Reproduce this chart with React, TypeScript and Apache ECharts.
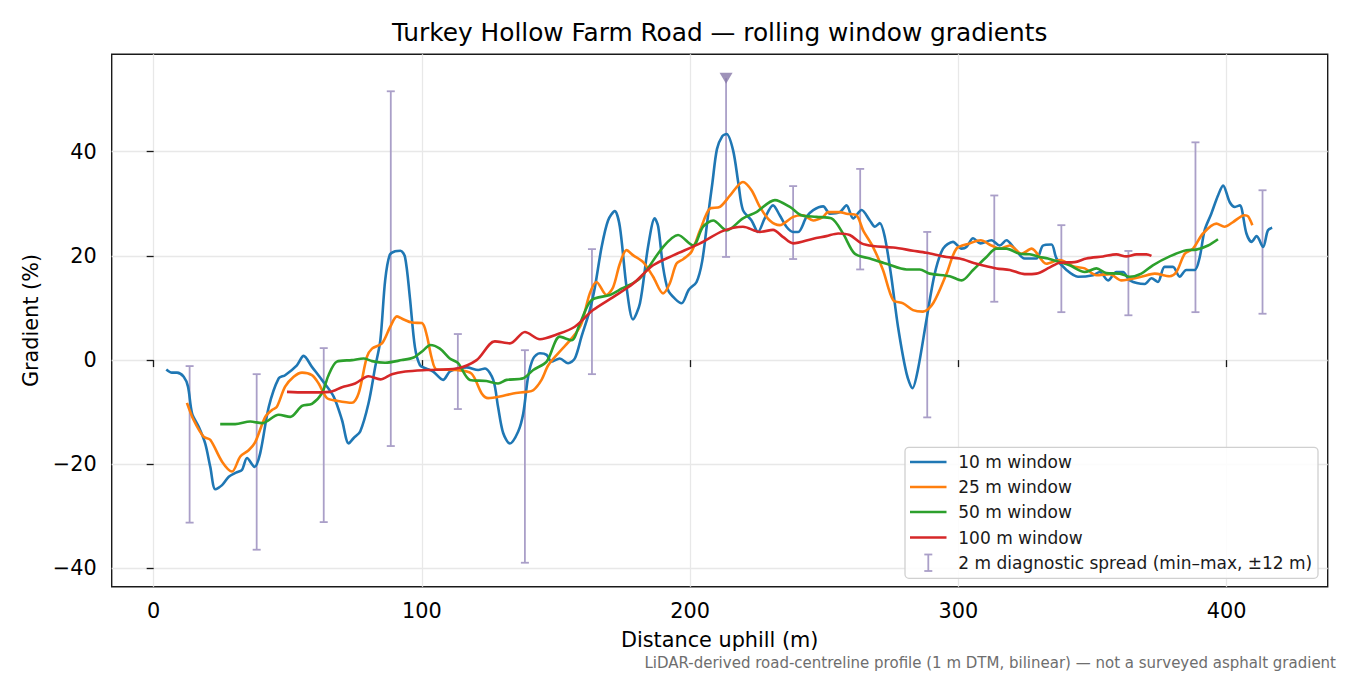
import { useEffect, useRef } from "react";
import * as echarts from "echarts";

// rolling window gradients, [distance m, gradient %]
const win10: [number, number][] = [
  [4.7, -1.8], [6.8, -2.4], [8.7, -2.4], [11.2, -3.2], [12.8, -5.1], [14.3, -10.2], [16.8, -12.8],
  [19.2, -16], [21.1, -20.5], [23, -24.8], [25.5, -24], [28, -22.4], [30.7, -21.6], [32.9, -21.1],
  [34.8, -18.8], [37.6, -20.5], [39.7, -17.9], [42.9, -9], [46.6, -3.5], [49, -2.9], [53.4, -1],
  [55.9, 0.8], [59, -1.3], [62.7, -3.8], [67.1, -7], [70.2, -11.5], [72.7, -16], [74.5, -15],
  [77, -13.7], [80.1, -8.3], [82.6, -1.3], [84.5, 3.8], [86.3, 15.3], [88, 20.2], [90, 20.9],
  [92, 21], [93.7, 19.8], [95.5, 12.1], [97.4, 2.5], [99.3, -1], [101.5, -1.6], [104.2, -2.2],
  [107.9, -3.8], [110.4, -2.2], [113.5, -1.6], [116.7, -1.4], [121, -1.9], [123.5, -1.6],
  [126.6, -3.8], [128.4, -9], [130.3, -14], [132.8, -16], [135.9, -13.7], [137.8, -10.2],
  [139.6, -3.2], [141.5, 0.3], [144, 1.3], [146.5, 1], [148.3, -0.3], [151.4, 0.3], [154.5, -0.6],
  [157, 0.3], [159.5, 4.5], [162.6, 9.6], [164.5, 14], [167, 21.7], [169.4, 26.8], [171.9, 28.6],
  [173.8, 25.6], [176.3, 14], [178.7, 7.8], [181.3, 10.9], [184.3, 21.7], [186.8, 27.2],
  [188.1, 25.6], [189.9, 17.9], [191.8, 13.4], [194.3, 11.8], [196.8, 10.9], [199.5, 13.5],
  [202.4, 15], [204.5, 19], [206.5, 27], [208.3, 34], [210, 40.5], [212, 43], [213.6, 43.4],
  [216, 40.3], [218, 33.9], [219.7, 28.8], [222.9, 26.8], [225.3, 24.6], [227.8, 27.2],
  [230.9, 29.7], [233.4, 27.8], [235.9, 25.6], [238.4, 24.6], [240.3, 24.6], [243.4, 27.5],
  [245.9, 28.8], [249.6, 29.5], [252.1, 28.1], [255.8, 28.4], [258.3, 29.7], [260.8, 27.2],
  [263.9, 28.8], [267, 26.8], [268.9, 25.6], [270.7, 26.3], [272.6, 23.6], [275, 16], [277.5, 6.4],
  [280.7, -2.6], [282.9, -5.4], [284.9, -1.9], [288.1, 7.7], [291.2, 16.6], [294.3, 21.4],
  [298, 22.7], [301.2, 21.4], [303, 21.7], [305.5, 23.4], [308.3, 22.4], [312.3, 23], [315.4, 22],
  [317.9, 23], [321, 21.4], [324.7, 19.5], [329.1, 19.5], [331.6, 22], [334.7, 22.2], [336.6, 19.5],
  [340.3, 17.3], [344.6, 16], [350.2, 16.3], [352.7, 16.9], [355.8, 15.3], [358.9, 16.9],
  [361.4, 16.9], [363.9, 15.3], [369.5, 14.6], [372, 15.7], [374.4, 15], [376.9, 17.9], [380, 17.9],
  [382.5, 16], [385, 17.3], [388.1, 17.3], [390, 19.8], [391.8, 24.9], [394.3, 28.1], [396.8, 31.6],
  [398.7, 33.5], [401.2, 30.3], [403.1, 29.4], [404.9, 29.7], [407.4, 24.3], [409.3, 22.7],
  [411.2, 23.8], [413.6, 21.7], [415.4, 24.9], [417, 25.4],
];

const win25: [number, number][] = [
  [12.4, -8.2], [14.9, -11.5], [18.6, -14.7], [21.1, -15.3], [25.5, -19.5], [29.2, -21.4],
  [32.3, -18.5], [35.4, -17.3], [37.9, -15.7], [41.6, -10.9], [44.1, -9.6], [45.9, -9], [49, -5.1],
  [52.2, -3.2], [55.3, -2.4], [59, -2.9], [61.5, -4.5], [64.6, -7.3], [68.3, -7.8], [73.9, -8.2],
  [76.4, -6.4], [79.5, 0.6], [81.4, 2.2], [85.1, 3.2], [88.2, 6.4], [90.7, 8.4], [93.2, 7.8],
  [96.3, 7.2], [100, 7.1], [101.8, 4.8], [103.6, 0.5], [105.5, -1.8], [112.9, -1.9], [118.5, -2.6],
  [122.3, -6.4], [124.7, -7.3], [129.1, -7], [134, -6.4], [139, -6.1], [141.5, -5.8], [144.6, -3.8],
  [147.1, -1], [150.8, 1.3], [156.4, 4.5], [159.5, 7], [162.6, 12.8], [165.1, 15], [168.8, 12.5],
  [171.3, 14], [173.8, 18.5], [176.3, 21.1], [178.8, 20.1], [182.5, 18.8], [186.2, 16],
  [189.9, 12.8], [192.4, 14.7], [194.9, 18.5], [197.5, 19.4], [200.5, 20.8], [203.7, 24.9],
  [207.4, 29.1], [211.1, 29.4], [214.9, 31.6], [219.7, 34.2], [222.9, 32.6], [226, 29.4],
  [229.7, 26.8], [233.4, 25.9], [238.4, 27.5], [242.1, 27.8], [245.9, 26.8], [249.6, 27.5],
  [251.4, 28.4], [255.8, 28.4], [258.3, 28.1], [262, 27.8], [264.5, 24.9], [268.2, 21.7],
  [271.9, 17.3], [275.7, 11.5], [279.4, 10.9], [283.1, 9.6], [286.8, 9.3], [290.6, 10.9],
  [295.6, 16.6], [299.3, 21.4], [304.2, 22.4], [308.3, 23], [312.3, 22], [315.4, 21.4], [319.2, 22],
  [323.5, 20.4], [327.3, 21.4], [332.8, 18.5], [337.8, 19.2], [343.4, 17.9], [347.1, 17.6],
  [351.5, 16.3], [356.4, 16.5], [360.8, 15.3], [368.2, 16], [373.2, 16.6], [378.8, 16.1],
  [381.3, 16.9], [384.4, 20.4], [387.5, 21.4], [391.2, 24.3], [396.2, 26.2], [399.2, 25.6],
  [402.4, 26.5], [406.7, 27.8], [408, 27.6], [409.6, 25.9],
];

const win50: [number, number][] = [
  [24.8, -12.3], [30.4, -12.3], [36, -11.8], [40.4, -12.1], [46.6, -10.5], [50.9, -10.9],
  [55.3, -8.8], [59, -8.4], [62.7, -6.4], [65.2, -2.9], [68.3, -0.3], [73.9, 0], [78.3, 0.3],
  [81.4, -0.2], [86.3, -0.5], [92.5, 0], [96.9, 0.5], [100.6, 1.9], [103.1, 2.9], [106.7, 2.2],
  [110.4, 0.3], [113.5, -0.6], [117.9, -3.8], [124.1, -4], [128.4, -4.5], [131.6, -3.8],
  [137.8, -3.5], [141.5, -1.9], [146.5, -0.3], [151.4, 4.5], [155.8, 3.8], [158.9, 7],
  [163.2, 11.5], [170.1, 12.5], [174.4, 13.7], [181.3, 15.7], [189.9, 21.7], [195.5, 24],
  [201.1, 22], [204.8, 25.6], [208.6, 26.8], [213.6, 24.9], [219.7, 27.2], [224.7, 28.4],
  [231.6, 30.7], [237.2, 29.4], [241.5, 27.8], [247.1, 27.5], [252.7, 27.2], [257, 24.3],
  [261.4, 20.4], [267, 19.5], [273.2, 18.5], [280.7, 17.4], [285.6, 17.4], [289.3, 16.6],
  [296.8, 16.1], [301.2, 15.3], [305.5, 17.3], [310.5, 19.8], [314.2, 21.4], [317.9, 21.4],
  [322.9, 20.4], [326.6, 20.3], [330.3, 19.8], [333.4, 19.5], [337.8, 18.8], [341.5, 18.2],
  [347.1, 16.9], [351.5, 17.6], [355.2, 16.7], [360.2, 16.6], [363.9, 16], [368.2, 16.6],
  [372.5, 18.2], [378.8, 19.9], [385, 21.1], [388.7, 21.2], [393.1, 22], [396.8, 23.2],
];

const win100: [number, number][] = [
  [49.7, -6.1], [56.5, -6.2], [65.8, -6.1], [70.2, -5.2], [75.1, -4.5], [80.1, -3.1], [84.5, -3.7],
  [88.8, -2.7], [93.8, -2.2], [101.7, -1.9], [112.9, -1.6], [120.4, 0], [127.2, 3.6], [132.8, 3.2],
  [138.4, 5.4], [144, 4], [150.2, 4.9], [157, 6.4], [163.8, 9.6], [171.3, 12.1], [178.8, 14.7],
  [186.2, 18.2], [193.7, 20.1], [203.7, 22.4], [212.3, 24.8], [219.7, 25.6], [226, 24.6],
  [230.9, 25], [234.7, 23.6], [238.4, 22.4], [245.9, 23.3], [250.8, 23.8], [255.2, 24.3],
  [259.5, 24], [263.9, 22.4], [268.2, 21.9], [275.7, 21.6], [283.1, 21], [288.1, 20.6],
  [295.6, 19.8], [300.5, 19.5], [306.8, 18.5], [314.2, 17.6], [319.2, 17.3], [324.7, 16.5],
  [329.1, 16.6], [334.1, 17.8], [337.8, 18.7], [343.4, 18.8], [347.7, 19.5], [353.9, 19.9],
  [358.9, 20.3], [362.6, 19.9], [366.4, 20.3], [370.1, 20.3], [372, 20],
];

// 2 m diagnostic spread (min–max within ±12 m)
const spreadX = [13.4, 38.4, 63.4, 88.4, 113.4, 138.4, 163.4, 213.4, 238.4, 263.4, 288.4, 313.4, 338.4, 363.4, 388.4, 413.4];
const spreadLow = [-31.2, -36.4, -31.1, -16.5, -9.4, -38.9, -2.7, 19.8, 19.4, 17.4, -11, 11.2, 9.2, 8.6, 9.2, 8.9];
const spreadHigh = [-1.15, -2.7, 2.3, 51.6, 5.0, 1.9, 21.3, 54.1, 33.4, 36.7, 24.6, 31.6, 25.9, 20.95, 41.8, 32.6];
// spread tops beyond the axis, marked with a triangle
const clippedX = [213.4];
const clippedAt = [54.1];

const seriesNames = ["10 m window", "25 m window", "50 m window", "100 m window"];
const seriesColors = ["#1f77b4", "#ff7f0e", "#2ca02c", "#d62728"];
const spreadName = "2 m diagnostic spread (min–max, ±12 m)";
const spreadColor = "#aa9fc8";
const xTicks = [0, 100, 200, 300, 400];
const yTicks = [-40, -20, 0, 20, 40];

const FONT = "DejaVu Sans";

export default function App() {
  const chartRef = useRef<HTMLDivElement>(null);

  useEffect(() => {
    if (!chartRef.current) return;
    const chart = echarts.init(chartRef.current, null, { renderer: "svg" });

    const lines = [win10, win25, win50, win100].map((d, i) => ({
      name: seriesNames[i],
      type: "line",
      data: d,
      showSymbol: false,
      smooth: 0.3,
      z: 3 + i,
      lineStyle: { color: seriesColors[i], width: 2.6 },
      itemStyle: { color: seriesColors[i] },
    }));

    // legend built by hand so that the error bar entry gets its own glyph
    const legendRows = [462, 487, 512, 537.5, 562.5];
    const legendFont = `17px "${FONT}"`;
    const LZ = 100;
    const legendItems: any[] = [
      {
        type: "rect",
        z: LZ,
        shape: { x: 905, y: 447.3, width: 413, height: 131, r: 4 },
        style: { fill: "rgba(255,255,255,0.85)", stroke: "#d0d0d0", lineWidth: 1.3 },
      },
    ];
    seriesNames.forEach((n, i) => {
      legendItems.push({
        type: "line",
        z: LZ + 1,
        shape: { x1: 910, y1: legendRows[i], x2: 946.5, y2: legendRows[i] },
        style: { stroke: seriesColors[i], lineWidth: 2.6 },
      });
      legendItems.push({
        type: "text",
        z: LZ + 1,
        x: 958.3,
        y: legendRows[i],
        style: { text: n, font: legendFont, fill: "#1a1a1a", textVerticalAlign: "middle" },
      });
    });
    legendItems.push(
      {
        type: "line",
        z: LZ + 1,
        shape: { x1: 928.3, y1: 554.5, x2: 928.3, y2: 571 },
        style: { stroke: spreadColor, lineWidth: 1.8 },
      },
      {
        type: "line",
        z: LZ + 1,
        shape: { x1: 924.3, y1: 554.5, x2: 932.3, y2: 554.5 },
        style: { stroke: spreadColor, lineWidth: 1.8 },
      },
      {
        type: "line",
        z: LZ + 1,
        shape: { x1: 924.3, y1: 571, x2: 932.3, y2: 571 },
        style: { stroke: spreadColor, lineWidth: 1.8 },
      },
      {
        type: "text",
        z: LZ + 1,
        x: 958.3,
        y: legendRows[4],
        style: { text: spreadName, font: legendFont, fill: "#1a1a1a", textVerticalAlign: "middle" },
      },
    );

    const option: any = {
      animation: false,
      backgroundColor: "#ffffff",
      textStyle: { fontFamily: FONT },
      grid: {
        left: 111.7,
        right: 22.3,
        top: 54.3,
        bottom: 88.3,
        show: true,
        borderColor: "#1a1a1a",
        borderWidth: 1.4,
        backgroundColor: "transparent",
      },
      xAxis: {
        type: "value",
        min: -15.65,
        max: 437.7,
        name: "Distance uphill (m)",
        nameLocation: "middle",
        nameGap: 43,
        nameTextStyle: { fontFamily: FONT, fontSize: 20.8, color: "#000" },
        axisLine: { show: false },
        axisTick: { show: true, inside: false, length: 7, customValues: xTicks, lineStyle: { color: "#1a1a1a", width: 1.3 } },
        axisLabel: { customValues: xTicks, margin: 14, fontFamily: FONT, fontSize: 20.8, color: "#000" },
        splitLine: { show: true, lineStyle: { color: "#e8e8e8", width: 1.3 } },
      },
      yAxis: {
        type: "value",
        min: -43.5,
        max: 58.7,
        name: "Gradient (%)",
        nameLocation: "middle",
        nameGap: 68,
        nameTextStyle: { fontFamily: FONT, fontSize: 20.8, color: "#000" },
        axisLine: { show: false },
        axisTick: { show: true, inside: false, length: 7, customValues: yTicks, lineStyle: { color: "#1a1a1a", width: 1.3 } },
        axisLabel: {
          customValues: yTicks,
          margin: 15,
          fontFamily: FONT,
          fontSize: 20.8,
          color: "#000",
          formatter: (v: number) => (v < 0 ? "\u2212" + Math.abs(v) : String(v)),
        },
        splitLine: { show: true, lineStyle: { color: "#e8e8e8", width: 1.3 } },
      },
      graphic: [
        {
          type: "text",
          x: 719.7,
          y: 32.8,
          style: {
            text: "Turkey Hollow Farm Road — rolling window gradients",
            font: `24.8px "${FONT}"`,
            fill: "#000",
            textAlign: "center",
            textVerticalAlign: "middle",
          },
        },
        ...legendItems,
        {
          type: "text",
          x: 1336,
          y: 663,
          style: {
            text: "LiDAR-derived road-centreline profile (1 m DTM, bilinear) — not a surveyed asphalt gradient",
            font: `15px "${FONT}"`,
            fill: "#6e6e6e",
            textAlign: "right",
            textVerticalAlign: "middle",
          },
        },
      ],
      series: [
        {
          name: spreadName,
          type: "custom",
          z: 2,
          data: spreadX.map((x, i) => [x, spreadLow[i], spreadHigh[i], clippedX.includes(x) ? 1 : 0]),
          encode: { x: 0, y: [1, 2] },
          renderItem: (_params: any, api: any) => {
            const x = api.value(0);
            const lo = api.coord([x, api.value(1)]);
            const hi = api.coord([x, api.value(2)]);
            const clipped = api.value(3) === 1;
            const hw = 4;
            const style = { stroke: spreadColor, lineWidth: 1.8 };
            const children: any[] = [
              { type: "line", shape: { x1: lo[0], y1: lo[1], x2: hi[0], y2: hi[1] }, style },
              { type: "line", shape: { x1: lo[0] - hw, y1: lo[1], x2: lo[0] + hw, y2: lo[1] }, style },
            ];
            if (!clipped) {
              children.push({ type: "line", shape: { x1: hi[0] - hw, y1: hi[1], x2: hi[0] + hw, y2: hi[1] }, style });
            }
            return { type: "group", children };
          },
        },
        ...lines,
        {
          name: "clipped",
          type: "scatter",
          z: 8,
          data: clippedX.map((x, i) => [x, clippedAt[i]]),
          symbol: "triangle",
          symbolRotate: 180,
          symbolSize: [13, 11],
          itemStyle: { color: "#8677a8" },
        },
      ],
    };

    chart.setOption(option);
    return () => chart.dispose();
  }, []);

  return (
    <div
      ref={chartRef}
      style={{ position: "absolute", left: 0, top: 0, width: 1350, height: 675 }}
    />
  );
}
